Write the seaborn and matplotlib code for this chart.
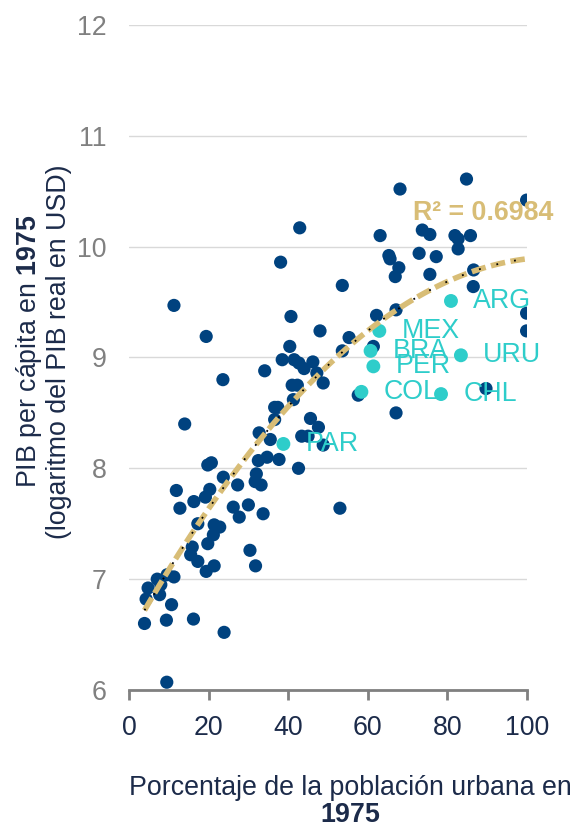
import numpy as np
import pandas as pd
import matplotlib
matplotlib.use("Agg")
import matplotlib.pyplot as plt
import seaborn as sns

# datos: porcentaje urbano y log PIB per capita, 1975
urban = [42.9, 38.1, 11.3, 40.7, 48.0, 19.4, 40.4, 38.5, 41.5, 42.7,
         44.0, 46.2, 47.2, 48.8, 34.1, 23.6, 41.0, 42.3, 41.3, 68.1,
         84.8, 99.9, 63.1, 73.7, 75.6, 81.9, 82.7, 85.8, 65.3, 65.6,
         72.9, 77.2, 82.7, 67.8, 66.9, 75.6, 86.6, 86.5, 53.6, 99.9,
         99.9, 55.3, 62.2, 67.1, 53.6, 61.4, 57.6, 89.7, 67.1, 53.0,
         48.8, 43.4, 45.0, 47.6, 45.6, 42.6, 36.6, 37.4, 36.6, 14.0,
         32.7, 35.5, 34.7, 32.5, 37.7, 19.8, 20.7, 23.7, 27.3, 32.0,
         31.7, 33.2, 11.9, 20.3, 19.2, 16.3, 12.8, 26.2, 30.0, 27.7,
         33.7, 17.3, 21.4, 22.8, 21.2, 19.8, 15.9, 15.5, 17.3, 19.4,
         21.4, 30.4, 31.8, 7.1, 9.6, 11.3, 4.8, 8.0, 4.3, 7.7,
         10.7, 3.9, 9.4, 16.2, 23.9, 9.5]
gdp = [10.17, 9.86, 9.47, 9.37, 9.24, 9.19, 9.10, 8.98, 8.98, 8.95,
       8.90, 8.96, 8.86, 8.77, 8.88, 8.80, 8.75, 8.75, 8.62, 10.52,
       10.61, 10.42, 10.10, 10.15, 10.11, 10.10, 10.07, 10.10, 9.92, 9.89,
       9.94, 9.91, 9.98, 9.81, 9.73, 9.75, 9.79, 9.64, 9.65, 9.40,
       9.24, 9.18, 9.38, 9.43, 9.06, 9.10, 8.66, 8.72, 8.50, 7.64,
       8.21, 8.29, 8.29, 8.37, 8.45, 8.00, 8.55, 8.55, 8.44, 8.40,
       8.32, 8.26, 8.10, 8.07, 8.08, 8.03, 8.05, 7.92, 7.85, 7.95,
       7.88, 7.85, 7.80, 7.81, 7.74, 7.70, 7.64, 7.65, 7.67, 7.56,
       7.59, 7.50, 7.49, 7.47, 7.40, 7.32, 7.29, 7.22, 7.16, 7.07,
       7.12, 7.26, 7.12, 7.00, 7.04, 7.02, 6.92, 6.95, 6.82, 6.86,
       6.77, 6.60, 6.63, 6.64, 6.52, 6.07]

# paises destacados de America Latina
latam = ["ARG", "MEX", "BRA", "PER", "URU", "COL", "CHL", "PAR"]
latam_urban = [80.9, 62.9, 60.7, 61.4, 83.4, 58.4, 78.4, 38.8]
latam_gdp = [9.51, 9.24, 9.06, 8.92, 9.02, 8.69, 8.67, 8.22]

r2_text = "R² = 0.6984"

navy = "#00427f"
cyan = "#2ecdca"
tan = "#d8bd76"
dark = "#1c2b4a"
gray = "#808080"
fs = 19.3

df = pd.DataFrame({"urban": urban, "gdp": gdp})
df_lat = pd.DataFrame({"urban": latam_urban, "gdp": latam_gdp, "iso": latam})
df_all = pd.concat([df, df_lat[["urban", "gdp"]]], ignore_index=True)

sns.set_style("white")
plt.rcParams["font.family"] = ["Liberation Sans", "DejaVu Sans"]
plt.rcParams["mathtext.fontset"] = "custom"
plt.rcParams["mathtext.rm"] = "Liberation Sans"
plt.rcParams["mathtext.bf"] = "Liberation Sans:bold"

fig = plt.figure(figsize=(5.74, 8.31), dpi=100)
ax = fig.add_axes([0.2247, 0.1697, 0.6934, 0.8002])

sns.scatterplot(x="urban", y="gdp", data=df, color=navy, s=90,
                edgecolor="none", ax=ax, zorder=3)
sns.scatterplot(x="urban", y="gdp", data=df_lat, color=cyan, s=100,
                edgecolor="none", ax=ax, zorder=4)

# tendencia polinomica de orden 2
sns.regplot(x="urban", y="gdp", data=df_all, order=2, ci=None, scatter=False,
            line_kws={"color": tan, "lw": 4, "ls": (0, (2.6, 1.0)), "zorder": 5},
            ax=ax)
sns.regplot(x="urban", y="gdp", data=df_all, order=2, ci=None, scatter=False,
            line_kws={"color": "black", "lw": 1.3, "ls": (0, (1, 9)), "zorder": 6},
            ax=ax)

for i, row in df_lat.iterrows():
    ax.annotate(row["iso"], (row["urban"], row["gdp"]), xytext=(16, 0),
                textcoords="offset points", ha="left", va="center",
                color=cyan, fontsize=fs, zorder=7)

ax.text(71.4, 10.30, r2_text, color=tan, fontsize=fs, fontweight="bold",
        ha="left", va="center")

ax.set_xlim(0, 100)
ax.set_ylim(6, 12)
ax.set_xticks(range(0, 101, 20))
ax.set_yticks(range(6, 13))
ax.grid(axis="y", color="#d9d9d9", lw=1)
ax.set_axisbelow(True)
for side in ["top", "right", "left"]:
    ax.spines[side].set_visible(False)
ax.spines["bottom"].set_color(gray)
ax.spines["bottom"].set_linewidth(2)
ax.tick_params(axis="x", colors=gray, length=7, width=2, pad=11,
               labelsize=fs, labelcolor=dark, bottom=True)
ax.tick_params(axis="y", length=0, pad=16, labelsize=fs, labelcolor=gray)
ax.set_xlabel("")
ax.set_ylabel("")

fig.text(0.611, 0.036, "Porcentaje de la población urbana en\n" + r"$\mathbf{1975}$",
         ha="center", va="center", multialignment="center", color=dark,
         fontsize=fs, linespacing=1.05)
fig.text(0.075, 0.577, r"PIB per cápita en $\mathbf{1975}$" + "\n(logaritmo del PIB real en USD)",
         ha="center", va="center", rotation=90, multialignment="center",
         color=dark, fontsize=fs, linespacing=1.1)

plt.savefig("out.png", dpi=100)
